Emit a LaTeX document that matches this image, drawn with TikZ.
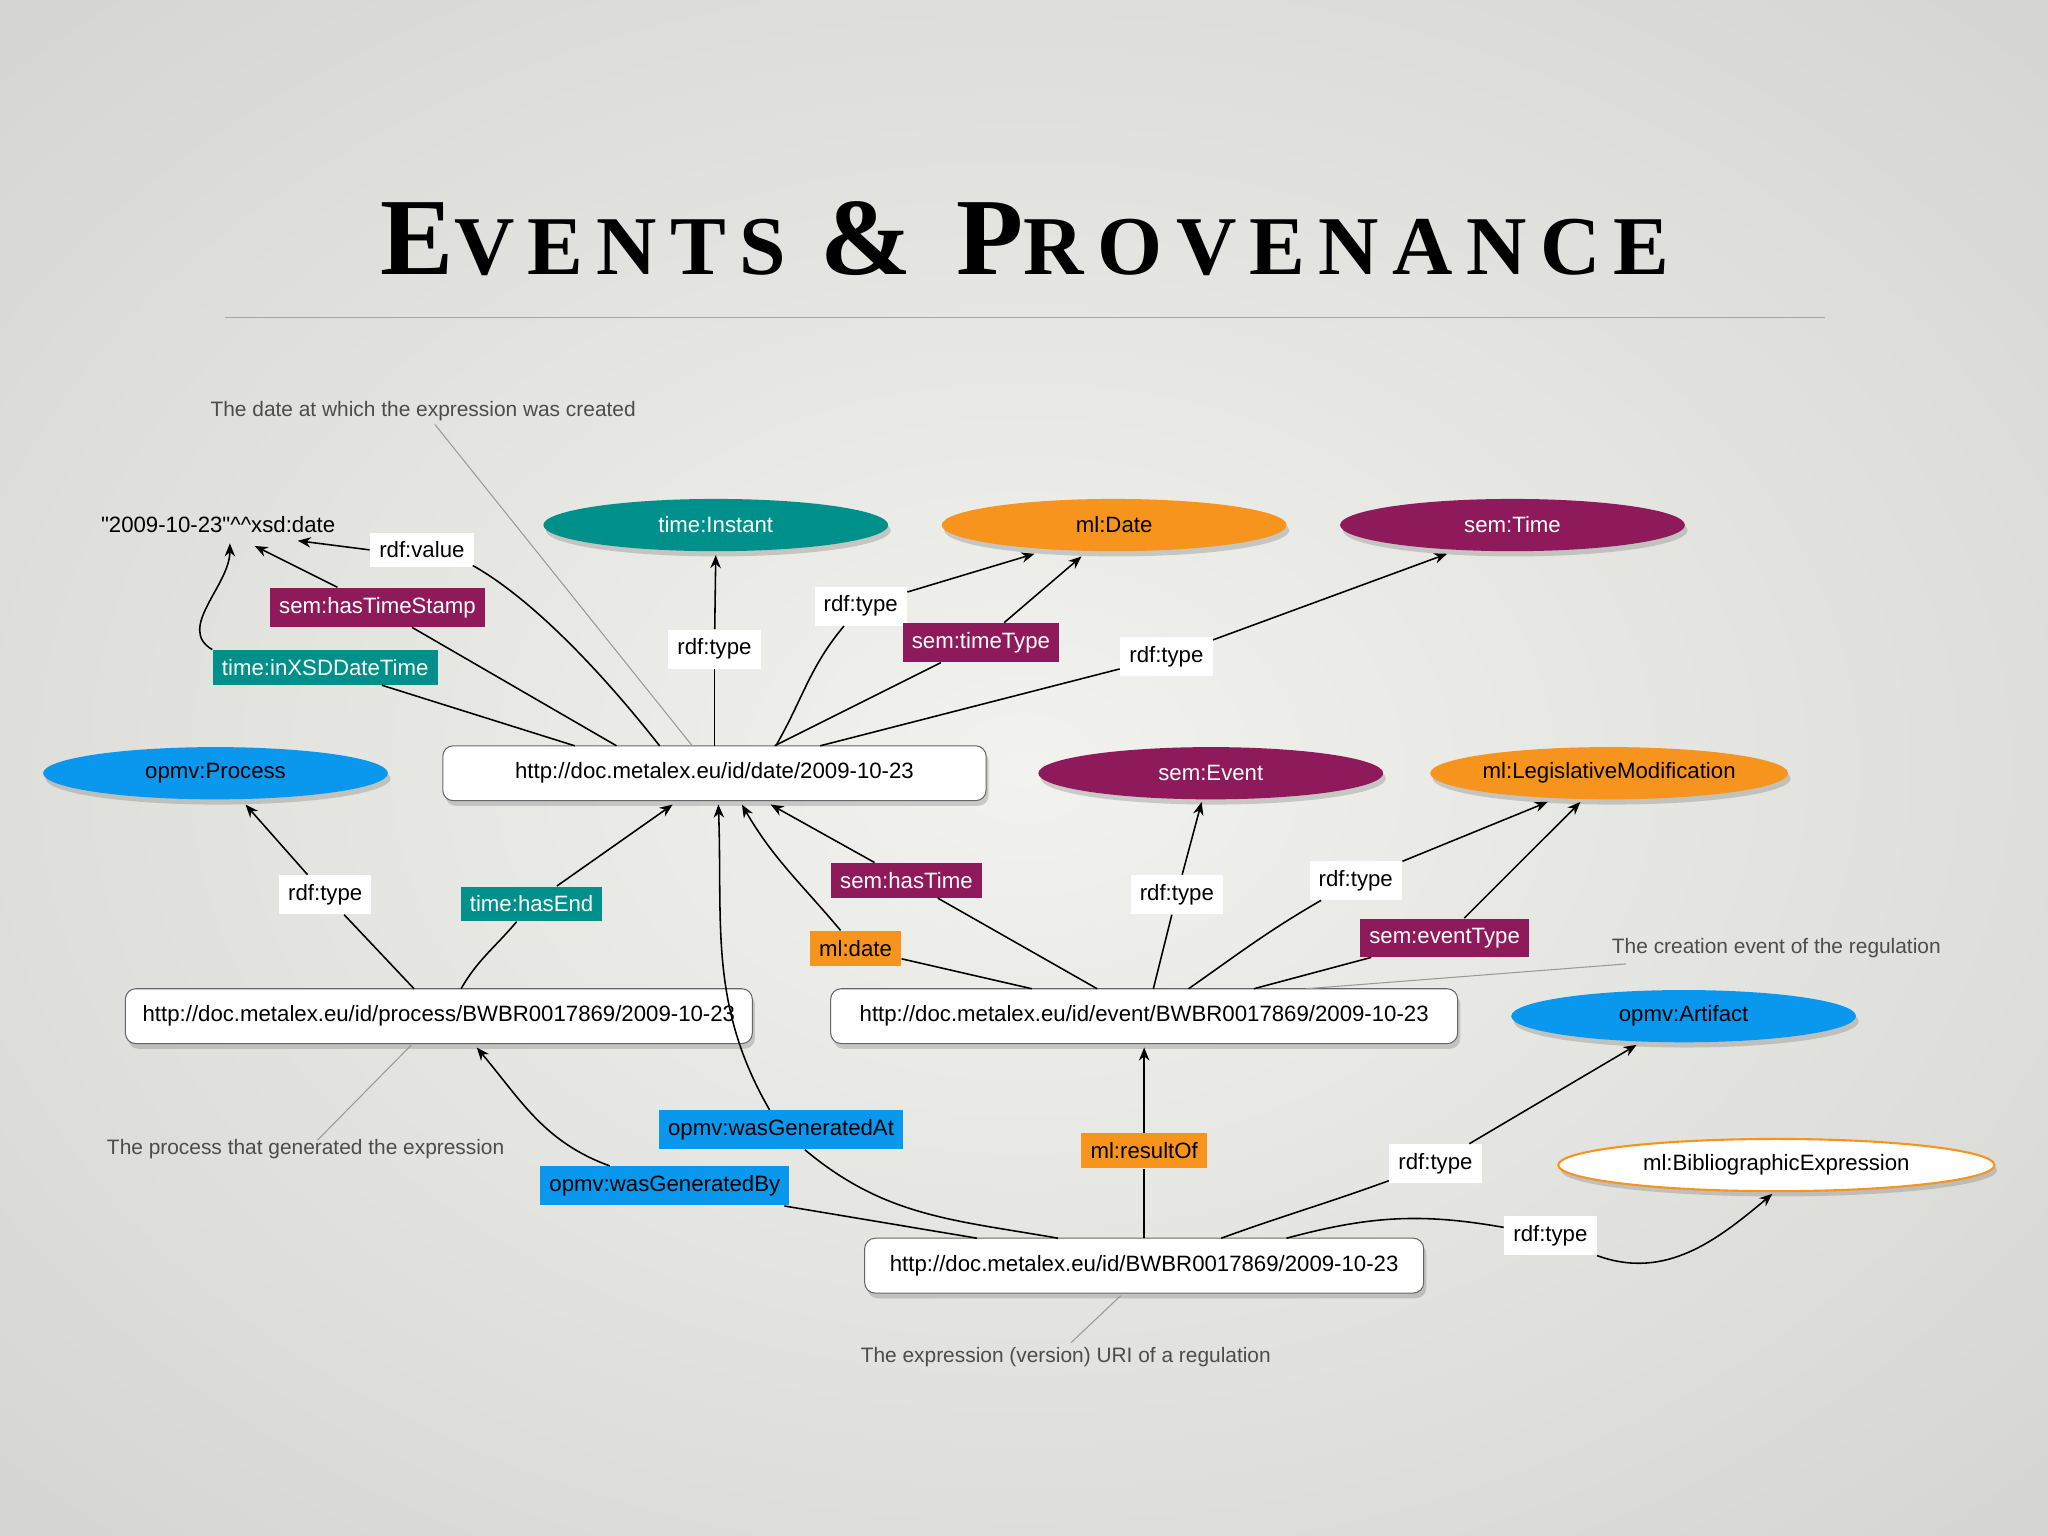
\documentclass[tikz,border=0pt]{standalone}
\usepackage{fontspec}
\setmainfont{Liberation Sans}
\newfontfamily\titlefont[LetterSpace=16]{Liberation Serif}
\usetikzlibrary{shapes.geometric,arrows.meta,shadows}
\definecolor{cpurple}{HTML}{8E1A5C}
\definecolor{cteal}{HTML}{00908C}
\definecolor{corange}{HTML}{F7941D}
\definecolor{cblue}{HTML}{0A98EE}
\definecolor{bgc}{HTML}{F2F2EE}
\definecolor{bgd}{HTML}{D6D6D2}
\begin{document}
\begin{tikzpicture}[x=0.5pt,y=-0.5pt,
  every node/.style={font=\fontsize{8.5}{10}\selectfont},
  ell/.style={ellipse,minimum width=132pt,minimum height=20pt,inner sep=0pt,text=white,drop shadow={opacity=0.35,shadow xshift=1pt,shadow yshift=-2pt}},
  uribox/.style={rectangle,rounded corners=4pt,draw=black!60,fill=white,minimum height=21pt,inner xsep=6pt,drop shadow={opacity=0.35,shadow xshift=1pt,shadow yshift=-2pt}},
  lbl/.style={rectangle,inner sep=3.5pt,text=white},
  wl/.style={lbl,fill=white,text=black},
  pl/.style={lbl,fill=cpurple},
  tl/.style={lbl,fill=cteal},
  ol/.style={lbl,fill=corange,text=black},
  bl/.style={lbl,fill=cblue,text=black},
  ann/.style={text=black!70,font=\fontsize{8}{10}\selectfont},
  annline/.style={draw=black!40,line width=0.4pt},
  edge/.style={draw=black,line width=0.6pt},
  arr/.style={edge,-{Stealth[length=5pt,width=4pt]}}]
\useasboundingbox (0,0) rectangle (1568,1176);
\shade[inner color=bgc,outer color=bgd] (-300,-200) rectangle (1868,1376);
% title
\node (title) at (785,183) {\titlefont\bfseries\fontsize{42}{44}\selectfont E\fontsize{32}{33}\selectfont VENTS \fontsize{42}{44}\selectfont\&\ P\fontsize{32}{33}\selectfont ROVENANCE};
\coordinate (tl1) at (172,243); \coordinate (tl2) at (1397,243);
\draw[draw=black!35,line width=0.5pt] (tl1) -- (tl2);
% main nodes
\node (lit) at (167,402) {\textquotedbl 2009-10-23\textquotedbl\textasciicircum\textasciicircum xsd:date};
\node[ell,fill=cteal] (inst) at (548,402) {time:Instant};
\node[ell,fill=corange,text=black] (mldate) at (853,402) {ml:Date};
\node[ell,fill=cpurple] (semtime) at (1158,402) {sem:Time};
\node[uribox,minimum width=208pt] (dbox) at (547,592) {http://doc.metalex.eu/id/date/2009-10-23};
\node[ell,fill=cblue,text=black] (proc) at (165,592) {opmv:Process};
\node[ell,fill=cpurple] (sevent) at (927,592) {sem:Event};
\node[ell,fill=corange,text=black] (legmod) at (1232,592) {ml:LegislativeModification};
\node[uribox,minimum width=240pt] (pbox) at (336,778) {http://doc.metalex.eu/id/process/BWBR0017869/2009-10-23};
\node[uribox,minimum width=240pt] (ebox) at (876,778) {http://doc.metalex.eu/id/event/BWBR0017869/2009-10-23};
\node[ell,fill=cblue,text=black] (artif) at (1289,778) {opmv:Artifact};
\node[ell,fill=white,text=black,draw=corange,line width=0.8pt,minimum width=167pt] (bib) at (1360,892) {ml:BibliographicExpression};
\node[uribox,minimum width=214pt] (xbox) at (876,969) {http://doc.metalex.eu/id/BWBR0017869/2009-10-23};
% annotations
\node[ann] (a1) at (324,315) {The date at which the expression was created};
\node[ann] (a2) at (1360,726) {The creation event of the regulation};
\node[ann] (a3) at (234,880) {The process that generated the expression};
\node[ann] (a4) at (816,1039) {The expression (version) URI of a regulation};
\coordinate (a1s) at (333,325); \coordinate (a1e) at (530,571);
\coordinate (a2s) at (1245,738); \coordinate (a2e) at (1000,757);
\coordinate (a3s) at (243,873); \coordinate (a3e) at (315,800);
\coordinate (a4s) at (820,1028); \coordinate (a4e) at (858,992);
\draw[annline] (a1s) -- (a1e);
\draw[annline] (a2s) -- (a2e);
\draw[annline] (a3s) -- (a3e);
\draw[annline] (a4s) -- (a4e);
% labels
\node[wl] (l1) at (323,421) {rdf:value};
\node[pl] (l2) at (289,465) {sem:hasTimeStamp};
\node[tl] (l3) at (249,511) {time:inXSDDateTime};
\node[wl] (l4) at (547,497) {rdf:type};
\node[wl] (l5) at (659,464) {rdf:type};
\node[pl] (l6) at (751,492) {sem:timeType};
\node[wl] (l7) at (893,503) {rdf:type};
\node[wl] (l8) at (249,685) {rdf:type};
\node[tl] (l9) at (407,692) {time:hasEnd};
\node[pl] (l10) at (694,674) {sem:hasTime};
\node[ol] (l11) at (655,726) {ml:date};
\node[wl] (l12) at (901,685) {rdf:type};
\node[wl] (l13) at (1038,674) {rdf:type};
\node[pl] (l14) at (1106,718) {sem:eventType};
\node[bl] (l15) at (509,908) {opmv:wasGeneratedBy};
\node[bl] (l16) at (598,865) {opmv:wasGeneratedAt};
\node[ol] (l17) at (876,881) {ml:resultOf};
\node[wl] (l18) at (1099,891) {rdf:type};
\node[wl] (l19) at (1187,946) {rdf:type};
% anchor coordinates
\coordinate (d1) at (505,571); \coordinate (d2) at (472,571); \coordinate (d3) at (440,571);
\coordinate (d4) at (547,571); \coordinate (d5) at (594,571); \coordinate (d6) at (593,571);
\coordinate (d7) at (628,571);
\coordinate (l1e) at (362,433);
\coordinate (c1a) at (465,520); \coordinate (c1b) at (410,460);
\coordinate (t1) at (228,414); \coordinate (t2) at (195,418); \coordinate (t3) at (176,416);
\coordinate (t4) at (548,425); \coordinate (t5) at (792,424); \coordinate (t6) at (828,426);
\coordinate (t7) at (1108,424);
\coordinate (p1) at (317,757); \coordinate (p2) at (353,757);
\coordinate (t8) at (188,616); \coordinate (t9) at (515,616);
\coordinate (e1) at (840,757); \coordinate (e2) at (790,757); \coordinate (e3) at (883,757);
\coordinate (e4) at (910,757); \coordinate (e5) at (960,757);
\coordinate (t10) at (590,616); \coordinate (t11) at (568,616); \coordinate (t12) at (920,614);
\coordinate (t13) at (1185,614); \coordinate (t14) at (1210,614);
\coordinate (x1) at (748,948); \coordinate (x2) at (810,948); \coordinate (x3) at (876,948);
\coordinate (x4) at (935,948); \coordinate (x5) at (985,948);
\coordinate (t15) at (365,802); \coordinate (t16) at (550,616); \coordinate (t17) at (876,802);
\coordinate (t18) at (1253,800); \coordinate (t19) at (1357,914);
% edges
\draw[edge] (d1) .. controls (c1a) and (c1b) .. (l1e); \draw[arr] (l1.west) -- (t1);
\draw[edge] (d2) -- (l2); \draw[arr] (l2) -- (t2);
\draw[edge] (d3) -- (l3); \draw[arr] (l3.north west) to[out=150,in=-90] (t3);
\draw[edge] (d4) -- (l4); \draw[arr] (l4) -- (t4);
\draw[edge] (d5) to[out=60,in=-130] (l5); \draw[arr] (l5) -- (t5);
\draw[edge] (d6) -- (l6); \draw[arr] (l6) -- (t6);
\draw[edge] (d7) -- (l7); \draw[arr] (l7) -- (t7);
\draw[edge] (p1) -- (l8); \draw[arr] (l8) -- (t8);
\draw[edge] (p2) to[out=60,in=-130] (l9); \draw[arr] (l9) -- (t9);
\draw[edge] (e1) -- (l10); \draw[arr] (l10) -- (t10);
\draw[edge] (e2) -- (l11); \draw[arr] (l11) to[out=130,in=-60] (t11);
\draw[edge] (e3) -- (l12); \draw[arr] (l12) -- (t12);
\draw[edge] (e4) to[out=35,in=-150] (l13); \draw[arr] (l13) -- (t13);
\draw[edge] (e5) -- (l14); \draw[arr] (l14) -- (t14);
\draw[edge] (x1) -- (l15); \draw[arr] (l15) to[out=160,in=-50] (t15);
\draw[edge] (x2) to[out=170,in=-40] (l16); \draw[arr] (l16) to[out=120,in=-88] (t16);
\draw[edge] (x3) -- (l17); \draw[arr] (l17) -- (t17);
\draw[edge] (x4) to[out=20,in=-160] (l18); \draw[arr] (l18) -- (t18);
\draw[edge] (x5) to[out=15,in=170] (l19); \draw[arr] (l19.south east) to[out=-20,in=-140] (t19);
\end{tikzpicture}
\end{document}
